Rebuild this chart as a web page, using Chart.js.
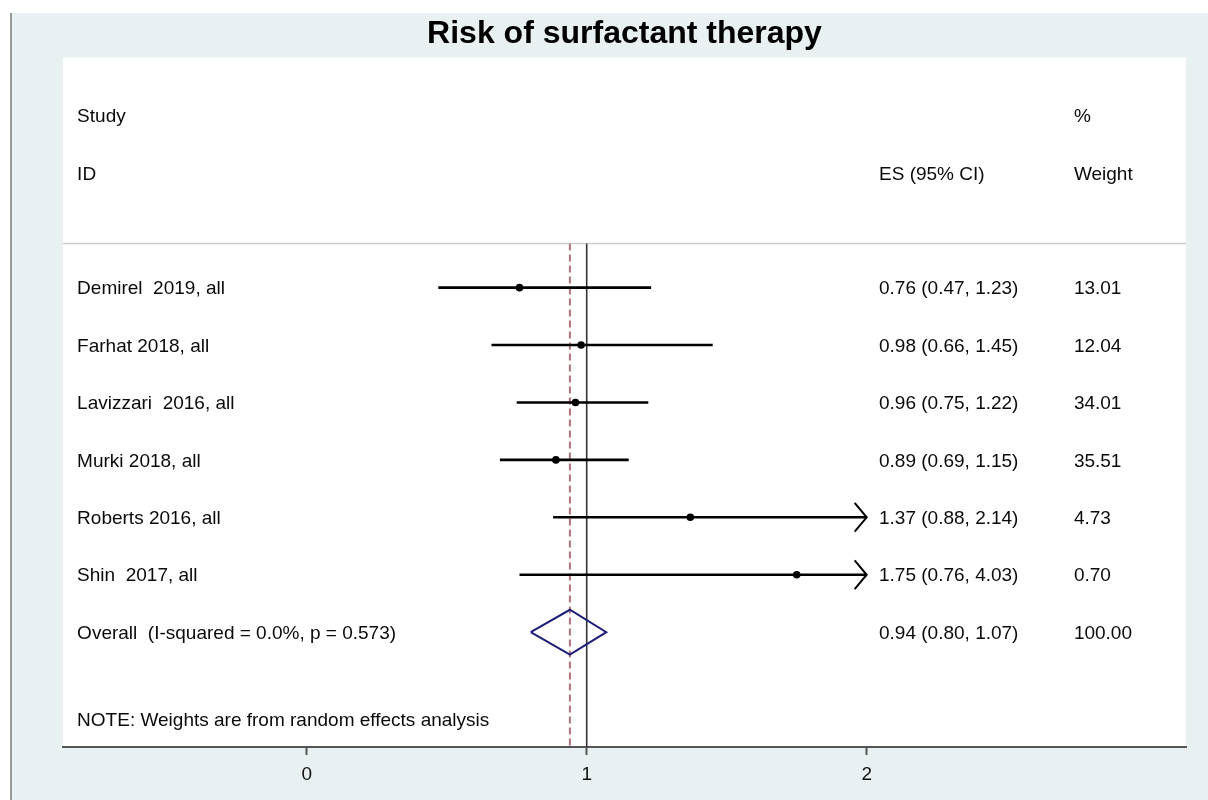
<!DOCTYPE html>
<html>
<head>
<meta charset="utf-8">
<script src="https://cdn.jsdelivr.net/npm/chart.js@4/dist/chart.umd.min.js"></script>
<style>
	html, body { margin: 0; padding: 0; background: #fff; }
	#wrap { width: 1208px; height: 800px; }
</style>
</head>
<body>
<div id="wrap"><canvas id="forest" width="1208" height="800"></canvas></div>
<script>
// study rows
var studies = ['Demirel  2019, all', 'Farhat 2018, all', 'Lavizzari  2016, all', 'Murki 2018, all', 'Roberts 2016, all', 'Shin  2017, all'];
var es = [0.76, 0.98, 0.96, 0.89, 1.37, 1.75];
var lo = [0.47, 0.66, 0.75, 0.69, 0.88, 0.76];
var hi = [1.23, 1.45, 1.22, 1.15, 2.14, 4.03];
var weights = ['13.01', '12.04', '34.01', '35.51', '4.73', '0.70'];

// pooled estimate
var overallLabel = 'Overall  (I-squared = 0.0%, p = 0.573)';
var overallEs = 0.94;
var overallLo = 0.80;
var overallHi = 1.07;
var overallWeight = '100.00';

var xTicks = [0, 1, 2];
var nullValue = 1;
var xClip = 2;

// layout of the table (row index / x value in axis units)
var firstRow = 3;
var sepRow = 2.23;
var noteRow = 10.52;
var colStudy = -0.82, colEs = 2.044, colWt = 2.74;
var yMin = -1.01, yMax = 11.0;
var xMin = -0.8704, xMax = 3.1404;

function fmt(v) { return v.toFixed(2); }

var overallRow = firstRow + studies.length;

var datasets = [];

// estimate dots
var dots = [];
for (var i in studies) {
	dots.push({x: es[i], y: firstRow + Number(i)});
}
datasets.push({
	data: dots,
	showLine: false,
	pointRadius: 3.8,
	pointBackgroundColor: '#000',
	pointBorderWidth: 0,
	order: 0
});

// confidence intervals (clipped at the last tick, arrow drawn there)
for (var i in studies) {
	var r = firstRow + Number(i);
	var right = Math.min(hi[i], xClip);
	datasets.push({
		data: [{x: lo[i], y: r}, {x: right, y: r}],
		showLine: true,
		borderColor: '#000',
		borderWidth: 2.6,
		pointRadius: 0,
		order: 1
	});
	if (hi[i] > xClip) {
		datasets.push({
			data: [{x: xClip - 0.043, y: r - 0.25}, {x: xClip, y: r}, {x: xClip - 0.043, y: r + 0.25}],
			showLine: true,
			borderColor: '#000',
			borderWidth: 2,
			pointRadius: 0,
			order: 1
		});
	}
}

// overall diamond
datasets.push({
	data: [
		{x: overallLo, y: overallRow},
		{x: overallEs, y: overallRow - 0.39},
		{x: overallHi, y: overallRow},
		{x: overallEs, y: overallRow + 0.39},
		{x: overallLo, y: overallRow}
	],
	showLine: true,
	borderColor: '#1f1f78',
	borderWidth: 2,
	pointRadius: 0,
	order: 1
});

// null line
datasets.push({
	data: [{x: nullValue, y: sepRow}, {x: nullValue, y: yMax}],
	showLine: true,
	borderColor: '#333',
	borderWidth: 1.6,
	pointRadius: 0,
	order: 2
});

// dashed line at pooled estimate
datasets.push({
	data: [{x: overallEs, y: sepRow}, {x: overallEs, y: yMax}],
	showLine: true,
	borderColor: '#b3727a',
	borderWidth: 2,
	borderDash: [7, 4],
	pointRadius: 0,
	order: 2
});

// header separator
datasets.push({
	data: [{x: xMin, y: sepRow}, {x: xMax, y: sepRow}],
	showLine: true,
	borderColor: '#cdcdcd',
	borderWidth: 1.6,
	pointRadius: 0,
	order: 3
});

var pageBg = {
	id: 'pageBg',
	beforeDraw: function(chart) {
		var ctx = chart.ctx, a = chart.chartArea;
		ctx.save();
		ctx.fillStyle = '#ffffff';
		ctx.fillRect(0, 0, chart.width, chart.height);
		ctx.fillStyle = '#e8f0f2';
		ctx.fillRect(12, 13, chart.width - 12, chart.height - 13);
		ctx.fillStyle = '#9a9a9a';
		ctx.fillRect(10, 13, 2, chart.height - 13);
		ctx.fillStyle = '#ffffff';
		ctx.fillRect(a.left, a.top, a.right - a.left, a.bottom - a.top);
		ctx.restore();
	}
};

var tableText = {
	id: 'tableText',
	afterDraw: function(chart) {
		var ctx = chart.ctx;
		var xs = chart.scales.x, ys = chart.scales.y;
		function put(txt, col, row) {
			ctx.fillText(txt, xs.getPixelForValue(col), ys.getPixelForValue(row) + 1.5);
		}
		ctx.save();
		ctx.font = '19px "Liberation Sans", Arial, sans-serif';
		ctx.fillStyle = '#0a0a0a';
		ctx.textAlign = 'left';
		ctx.textBaseline = 'middle';
		put('Study', colStudy, 0);
		put('ID', colStudy, 1);
		put('%', colWt, 0);
		put('ES (95% CI)', colEs, 1);
		put('Weight', colWt, 1);
		for (var i in studies) {
			var r = firstRow + Number(i);
			put(studies[i], colStudy, r);
			put(fmt(es[i]) + ' (' + fmt(lo[i]) + ', ' + fmt(hi[i]) + ')', colEs, r);
			put(weights[i], colWt, r);
		}
		put(overallLabel, colStudy, overallRow);
		put(fmt(overallEs) + ' (' + fmt(overallLo) + ', ' + fmt(overallHi) + ')', colEs, overallRow);
		put(overallWeight, colWt, overallRow);
		put('NOTE: Weights are from random effects analysis', colStudy, noteRow);
		ctx.restore();
	}
};

var ctx = document.getElementById('forest');
var forest = new Chart(ctx, {
	type: 'scatter',
	data: { datasets: datasets },
	options: {
		responsive: false,
		animation: false,
		layout: { padding: { left: 63, right: 22, top: 0, bottom: 0 } },
		plugins: {
			legend: { display: false },
			tooltip: { enabled: false },
			title: {
				display: true,
				text: 'Risk of surfactant therapy',
				color: '#000',
				font: { family: '"Liberation Sans", Arial, sans-serif', size: 32, weight: 'bold' },
				padding: { top: 15, bottom: 4 }
			}
		},
		scales: {
			x: {
				type: 'linear',
				min: xMin,
				max: xMax,
				afterBuildTicks: function(scale) {
					scale.ticks = xTicks.map(function(v) { return {value: v}; });
				},
				afterFit: function(scale) { scale.height = 53; },
				border: { display: true, color: '#555', width: 2 },
				grid: { drawOnChartArea: false, drawTicks: true, tickLength: 8, tickColor: '#555', tickWidth: 2 },
				ticks: {
					autoSkip: false,
					maxRotation: 0,
					padding: 8,
					color: '#111',
					font: { family: '"Liberation Sans", Arial, sans-serif', size: 19 }
				}
			},
			y: {
				type: 'linear',
				display: false,
				reverse: true,
				min: yMin,
				max: yMax
			}
		}
	},
	plugins: [pageBg, tableText]
});
</script>
</body>
</html>
